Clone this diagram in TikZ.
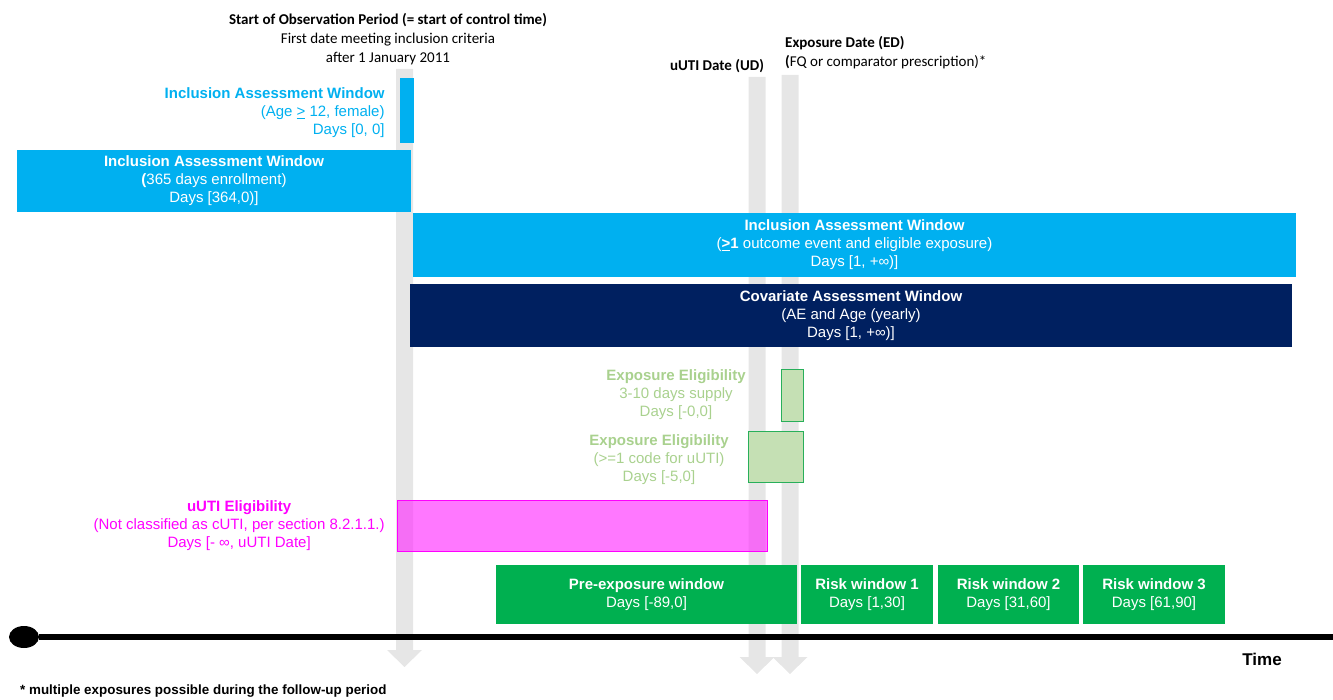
\documentclass[tikz,border=0pt]{standalone}
\usepackage{fontspec}
\setmainfont{Liberation Sans}
\newfontfamily\calib{Carlito}
\usetikzlibrary{positioning,shapes.geometric}
\definecolor{inclblue}{RGB}{0,176,240}
\definecolor{covnavy}{RGB}{0,32,96}
\definecolor{riskgreen}{RGB}{0,176,80}
\definecolor{eligfill}{RGB}{197,224,180}
\definecolor{eligline}{RGB}{40,175,90}
\definecolor{eligtext}{RGB}{169,209,142}
\definecolor{uutipink}{RGB}{255,0,255}
\definecolor{uutifill}{RGB}{255,30,255}
\definecolor{markgray}{RGB}{230,230,230}
\begin{document}
\begin{tikzpicture}[x=1pt,y=-1pt,
	txt/.style={font=\fontsize{15}{18}\selectfont,align=center,inner sep=0pt},
	window/.style={txt,rectangle,text=white,minimum width=#1},
	inclbox/.style={window=#1,fill=inclblue},
	covbox/.style={window=#1,fill=covnavy},
	riskbox/.style={window=#1,fill=riskgreen,minimum height=59pt},
	eligbox/.style={rectangle,draw=eligline,fill=eligfill,minimum width=#1},
	uutibox/.style={rectangle,draw=uutipink,fill=uutifill,fill opacity=0.6,minimum width=#1},
	marker/.style={fill=markgray},
	note/.style={font=\calib\fontsize{15}{19}\selectfont,align=center,inner sep=0pt}]
	\useasboundingbox (0,0) rectangle (1333,700);
	\foreach \x/\t/\h in {404.5/69/650,757/77/657,790/75/657}
		\fill[marker] ({\x-8.5},\t) -- ({\x+8.5},\t) -- ({\x+8.5},\h) -- ({\x+17.5},\h)
			-- (\x,{\h+17}) -- ({\x-17.5},\h) -- ({\x-8.5},\h) -- cycle;
	\node[note] (SOP) at (388,39) {\textbf{Start of Observation Period (= start of control time)}\\First date meeting inclusion criteria\\after 1 January 2011};
	\node[note,font=\calib\bfseries\fontsize{15}{19}\selectfont] (UD) at (717,66) {uUTI Date (UD)};
	\node[note,anchor=west,align=left] (ED) at (785,53) {\textbf{Exposure Date (ED)}\\\textbf{(}FQ or comparator prescription)*};
	\node[inclbox=14pt,minimum height=65pt] (IA0) at (407,110.5) {};
	\node[txt,text=inclblue,align=right,left=15pt of IA0,yshift=-2pt] (IA0txt) {\textbf{Inclusion Assessment Window}\\(Age \underline{>} 12, female)\\Days [0, 0]};
	\node[inclbox=394pt,minimum height=62pt] (IA1) at (214,181) {\textbf{Inclusion Assessment Window}\\\textbf{(}365 days enrollment)\\Days [364,0)]};
	\node[inclbox=883pt,minimum height=64pt] (IA2) at (854.5,245) {\textbf{Inclusion Assessment Window}\\(\textbf{\underline{>}1} outcome event and eligible exposure)\\Days [1, +∞)]};
	\node[covbox=882pt,minimum height=63pt] (CA) at (851,315.5) {\textbf{Covariate Assessment Window}\\(AE and Age (yearly)\\Days [1, +∞)]};
	\node[eligbox=22pt,minimum height=52pt] (EE1) at (792,395) {};
	\node[txt,text=eligtext,left=35pt of EE1] (EE1txt) {\textbf{Exposure Eligibility}\\3-10 days supply\\Days [-0,0]};
	\node[eligbox=55pt,minimum height=51pt] (EE2) at (775.5,456.5) {};
	\node[txt,text=eligtext,left=19pt of EE2,yshift=-3pt] (EE2txt) {\textbf{Exposure Eligibility}\\(>=1 code for uUTI)\\Days [-5,0]};
	\node[uutibox=370pt,minimum height=51pt] (UE) at (582,525.5) {};
	\node[txt,text=uutipink,left=12pt of UE] (UEtxt) {\textbf{uUTI Eligibility}\\(Not classified as cUTI, per section 8.2.1.1.)\\Days [- ∞, uUTI Date]};
	\node[riskbox=301pt] (PW) at (646.5,594.5) {\textbf{Pre-exposure window}\\Days [-89,0]};
	\node[riskbox=132pt] (RW1) at (867,594.5) {\textbf{Risk window 1}\\Days [1,30]};
	\node[riskbox=141pt] (RW2) at (1008.5,594.5) {\textbf{Risk window 2}\\Days [31,60]};
	\node[riskbox=142pt] (RW3) at (1154,594.5) {\textbf{Risk window 3}\\Days [61,90]};
	\node[ellipse,fill=black,minimum width=30pt,minimum height=22pt,inner sep=0pt] (start) at (24,637) {};
	\coordinate (end) at (1333,637);
	\draw[line width=6pt] (start) -- (end);
	\node[txt,font=\bfseries\fontsize{17}{20}\selectfont] (time) at (1262,659) {Time};
	\node[txt,anchor=west,font=\bfseries\fontsize{13.4}{16}\selectfont] (foot) at (20,691) {* multiple exposures possible during the follow-up period};
\end{tikzpicture}
\end{document}
